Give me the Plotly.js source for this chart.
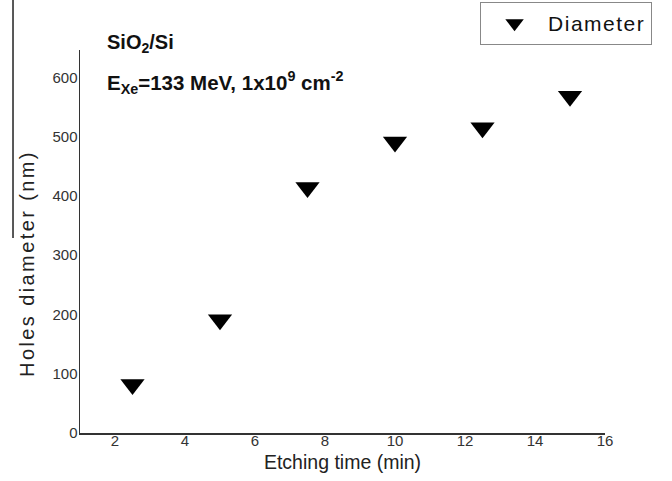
<!DOCTYPE html>
<html>
<head>
<meta charset="utf-8">
<script src="https://cdn.plot.ly/plotly-3.0.1.min.js"></script>
<style>
html,body{margin:0;padding:0;background:#fff;}
#chart{width:672px;height:481px;}
.ytitle{letter-spacing:2.4px;}
.legendtext{letter-spacing:1.5px;}
</style>
</head>
<body>
<div id="chart"></div>
<script>
const etchingTime = [2.5, 5, 7.5, 10, 12.5, 15];
const holeDiameter = [82, 191, 414, 491, 515, 568];
const seriesName = 'Diameter';
const xTicks = [2, 4, 6, 8, 10, 12, 14, 16];
const yTicks = [0, 100, 200, 300, 400, 500, 600];

const FONT = 'Liberation Sans, Arial, sans-serif';

const trace = {
  x: etchingTime,
  y: holeDiameter,
  name: seriesName,
  type: 'scatter',
  mode: 'markers',
  marker: {symbol: 'triangle-down', size: 21, color: '#000'},
  showlegend: true
};

const layout = {
  width: 672, height: 481,
  margin: {l: 80, r: 67, t: 50, b: 48, autoexpand: false},
  paper_bgcolor: '#fff', plot_bgcolor: '#fff',
  font: {family: FONT, color: '#222'},
  showlegend: true,
  legend: {
    x: 0.762, y: 1.125, xanchor: 'left', yanchor: 'top',
    bordercolor: '#888', borderwidth: 1, bgcolor: '#fff',
    font: {size: 21, color: '#111', family: FONT},
    itemwidth: 57
  },
  xaxis: {
    range: [1, 16],
    tickvals: xTicks, ticktext: xTicks.map(String),
    showgrid: false, zeroline: false,
    showline: true, linecolor: '#333', linewidth: 1.5,
    ticks: '', ticklabelstandoff: -7,
    tickfont: {size: 15, color: '#333'},
    title: {text: 'Etching time (min)', font: {size: 19.5, color: '#222'}, standoff: 8}
  },
  yaxis: {
    range: [0, 646],
    tickvals: yTicks, ticktext: yTicks.map(String),
    showgrid: false, zeroline: false,
    showline: true, linecolor: '#333', linewidth: 1.5,
    ticks: '', ticklabelstandoff: -2,
    tickfont: {size: 15, color: '#333'},
    title: {text: 'Holes diameter (nm)', font: {size: 20, color: '#222'}, standoff: 12}
  },
  annotations: [
    {xref: 'paper', yref: 'paper', x: 0.048, y: 1.016, xanchor: 'left', yanchor: 'middle',
     text: '<b>SiO<sub>2</sub>/Si</b>', showarrow: false, font: {size: 20, color: '#111'}},
    {xref: 'paper', yref: 'paper', x: 0.048, y: 0.916, xanchor: 'left', yanchor: 'middle',
     text: '<b>E<sub>Xe</sub>=133 MeV, 1x10<sup>9</sup> cm<sup>-2</sup></b>', showarrow: false, font: {size: 20.5, color: '#111'}}
  ],
  shapes: [
    {type: 'line', xref: 'paper', yref: 'paper', x0: -0.1276, x1: -0.1276, y0: 1.1305, y1: 0.509,
     line: {color: '#222', width: 1.5}}
  ]
};

Plotly.newPlot('chart', [trace], layout, {displayModeBar: false, staticPlot: true}).then(function (gd) {
  // the reference's y title sits a little below the plot's middle
  const t = gd.querySelector('.ytitle');
  if (t) {
    const tr = t.getAttribute('transform') || '';
    t.setAttribute('transform', 'translate(0,22) ' + tr);
  }
});
</script>
</body>
</html>
